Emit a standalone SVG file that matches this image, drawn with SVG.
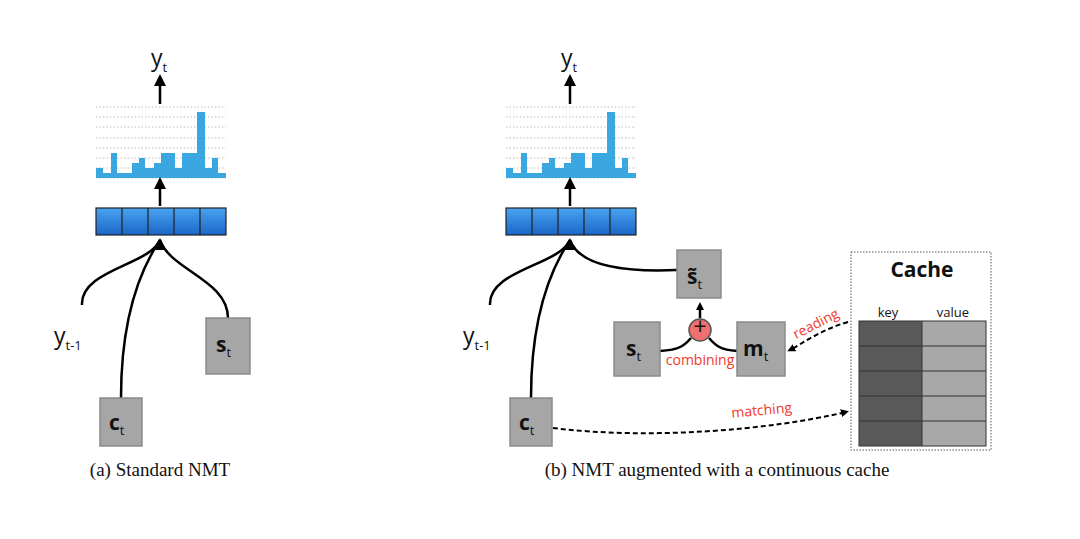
<svg xmlns="http://www.w3.org/2000/svg" width="1080" height="539" viewBox="0 0 1080 539">
<style>
.node{fill:#a6a6a6;stroke:#8a8a8a;stroke-width:1.5}
.lbl{font-family:"Open Sans","Liberation Sans",sans-serif;font-weight:bold;font-size:21px;fill:#111}
.sub{font-family:"Open Sans","Liberation Sans",sans-serif;font-size:13px;font-weight:normal;fill:#111}
.y{font-family:"Open Sans","Liberation Sans",sans-serif;font-size:23px;fill:#111}
.red{font-family:"Open Sans","Liberation Sans",sans-serif;font-size:14px;fill:#f0382b}
.cap{font-family:"Liberation Serif",serif;font-size:19px;fill:#111}
.line{fill:none;stroke:#000;stroke-width:2.5}
.dash{fill:none;stroke:#000;stroke-width:2;stroke-dasharray:5 3}
.grid{stroke:#bbb;stroke-width:1;stroke-dasharray:1.5 2}
</style>
<defs>
<marker id="ah" markerWidth="8" markerHeight="8" refX="5" refY="4" orient="auto" markerUnits="userSpaceOnUse"><path d="M0,0 L8,4 L0,8 z" fill="#000"/></marker>
<marker id="big" markerWidth="12" markerHeight="12" refX="6" refY="6" orient="auto" markerUnits="userSpaceOnUse"><path d="M0,0 L12,6 L0,12 z" fill="#000"/></marker>
<linearGradient id="bl" x1="0" y1="0" x2="0" y2="1"><stop offset="0" stop-color="#4aa3f0"/><stop offset="1" stop-color="#1a66c8"/></linearGradient>
<g id="model">
<g class="grid"><line x1="96" y1="107" x2="226" y2="107"/><line x1="96" y1="117" x2="226" y2="117"/><line x1="96" y1="127" x2="226" y2="127"/><line x1="96" y1="138" x2="226" y2="138"/><line x1="96" y1="148" x2="226" y2="148"/><line x1="96" y1="158" x2="226" y2="158"/><line x1="96" y1="168" x2="226" y2="168"/><line x1="96" y1="178" x2="226" y2="178"/></g>
<path d="M96 178 V168 H103 V173 H111 V153 H117 V173 H132 V163 H139 V158 H145 V168 H154 V163 H161 V153 H175 V168 H182 V153 H197 V112 H205 V168 H212 V158 H218 V173 H226 V178 Z" fill="#3ba7e0"/>
<rect x="96" y="208" width="130" height="27" fill="url(#bl)" stroke="#222" stroke-width="1.2"/>
<path d="M122 208 V235 M148 208 V235 M174 208 V235 M200 208 V235" stroke="#222" stroke-width="1.2"/>
<line x1="160" y1="206" x2="160" y2="183" class="line" marker-end="url(#big)"/>
<line x1="160" y1="104" x2="160" y2="80" class="line" marker-end="url(#big)"/>
</g>
</defs>
<g id="panel-a">
<use href="#model"/>
<text x="151" y="66" class="y">y<tspan class="sub" dy="6">t</tspan></text>
<g id="connectors-a">
<path class="line" d="M82 305 C80 270 150 265 160 240"/>
<path class="line" d="M121 398 C121 320 140 270 160 240"/>
<path class="line" d="M228 318 C228 280 170 270 160 240"/>
<line x1="160" y1="250" x2="160" y2="244" class="line" marker-end="url(#big)"/>
</g>
<text x="54" y="344" class="y">y<tspan class="sub" dy="6">t-1</tspan></text>
<g id="node-ct-a"><rect class="node" x="100" y="398" width="42" height="48"/><text x="109" y="430" class="lbl">c<tspan class="sub" dy="5">t</tspan></text></g>
<g id="node-st-a"><rect class="node" x="206" y="318" width="44" height="56"/><text x="216" y="352" class="lbl">s<tspan class="sub" dy="5">t</tspan></text></g>
<text x="160" y="476" class="cap" text-anchor="middle">(a) Standard NMT</text>
</g>
<g id="panel-b">
<use href="#model" transform="translate(410,0)"/>
<text x="561" y="66" class="y">y<tspan class="sub" dy="6">t</tspan></text>
<g id="connectors-b">
<path class="line" d="M490 305 C488 270 560 265 570 240"/>
<path class="line" d="M531 398 C531 320 550 270 570 240"/>
<path class="line" d="M677 270 C630 272 580 268 570 240"/>
<line x1="570" y1="250" x2="570" y2="244" class="line" marker-end="url(#big)"/>
<path class="line" d="M660 351 C680 350 685 345 691 338"/>
<path class="line" d="M737 351 C720 350 715 345 709 338"/>
<line x1="700" y1="318" x2="700" y2="305" class="line" marker-end="url(#ah)"/>
<path class="dash" d="M848 322 C820 330 800 345 790 350" marker-end="url(#ah)"/>
<path class="dash" d="M553 428 C650 440 770 430 846 412" marker-end="url(#ah)"/>
</g>
<text x="463" y="344" class="y">y<tspan class="sub" dy="6">t-1</tspan></text>
<g id="node-ct-b"><rect class="node" x="510" y="398" width="42" height="48"/><text x="519" y="430" class="lbl">c<tspan class="sub" dy="5">t</tspan></text></g>
<g id="node-stilde"><rect class="node" x="677" y="250" width="44" height="48"/><text x="687" y="284" class="lbl">s̃<tspan class="sub" dy="5">t</tspan></text></g>
<g id="node-st-b"><rect class="node" x="614" y="322" width="46" height="54"/><text x="626" y="356" class="lbl">s<tspan class="sub" dy="5">t</tspan></text></g>
<g id="node-mt"><rect class="node" x="737" y="322" width="48" height="54"/><text x="743" y="356" class="lbl">m<tspan class="sub" dy="5">t</tspan></text></g>
<g id="node-plus"><circle cx="700" cy="330" r="11" fill="#f07070" stroke="#555" stroke-width="1.5"/><text x="700" y="335" class="y" font-size="15" text-anchor="middle">+</text></g>
<text x="700" y="365" class="red" text-anchor="middle">combining</text>
<text x="818" y="328" class="red" transform="rotate(-27 818 328)" text-anchor="middle">reading</text>
<text x="762" y="415" class="red" transform="rotate(-5 762 415)" text-anchor="middle">matching</text>
<g id="node-cache">
<rect x="851" y="252" width="140" height="198" fill="#fff" stroke="#555" stroke-width="1" stroke-dasharray="1.5 1.5"/>
<text x="922" y="277" class="lbl" font-size="18" text-anchor="middle">Cache</text>
<text x="888" y="317" class="sub" font-size="13" text-anchor="middle">key</text>
<text x="953" y="317" class="sub" font-size="13" text-anchor="middle">value</text>
<rect x="859" y="321" width="63" height="125" fill="#5a5a5a"/>
<rect x="922" y="321" width="64" height="125" fill="#a8a8a8"/>
<path d="M859 346 H986 M859 371 H986 M859 396 H986 M859 421 H986 M922 321 V446" stroke="#333" stroke-width="1"/>
<rect x="859" y="321" width="127" height="125" fill="none" stroke="#333" stroke-width="1"/>
</g>
<text x="717" y="476" class="cap" text-anchor="middle">(b) NMT augmented with a continuous cache</text>
</g>
</svg>
